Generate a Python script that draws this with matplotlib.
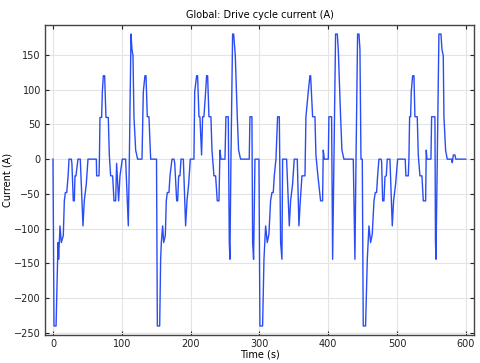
import matplotlib
matplotlib.use("Agg")
import matplotlib.pyplot as plt

plt.rcParams['font.family'] = 'DejaVu Sans'
plt.rcParams['font.size'] = 7

# %% data, one list pair per 150 s drive cycle
cycle1_t = [0, 1.5, 4.5, 7.3, 8.2, 10.2, 12.1, 15, 16.5, 18, 20, 21, 22, 23.3, 26.6, 27.5,
            29.5, 31, 32, 33.4, 36.3, 39.7, 43.6, 45.5, 48.4, 50.9, 63, 63.5, 66.9, 67.5,
            68.3, 70.7, 71.7, 73.2, 75.1, 77, 80.4, 81.9, 83.8, 86.7, 88.7, 91.1, 92.5,
            95.4, 97.4, 100.8, 105.6, 108, 109.5, 111, 113.4, 114.8, 116.3, 117.7, 120.2,
            123, 129.4, 131.3, 133.7, 135.2, 137.1, 139.5, 142, 150.5]
cycle1_i = [0, -240, -240, -120, -144, -96, -120, -110, -60, -48, -48, -36, -24, 0, 0, -6,
            -60, -60, -24, -24, 0, 0, -96, -60, -36, 0, 0, -24, -24, 0,
            60, 60, 96, 120, 120, 60, 60, 6, -24, -24, -60, -60, -6,
            -60, -24, 0, 0, -60, -96, 0, 180, 158, 149, 61, 13,
            0, 0, 97, 120, 120, 61, 61, 0, 0]

cycle2_t = [151.7, 155.1, 156.5, 157.5, 159.4, 160.9, 163.3, 164.7, 166.2, 168.6, 170.1,
            173, 175.9, 177, 179.8, 181.2, 182.7, 184.6, 186.1, 189.5, 192.8, 194.8, 197.2,
            199.6, 204.9, 206, 208.8, 210.2, 212.2, 213.6, 216, 217.5, 219.4, 221.9, 223.3,
            224.8, 226.7, 229.6, 231.1, 234, 236.4, 238.8, 241.3, 242.7, 244.2, 250, 251.4,
            254.8, 256.3, 257.2, 258.7, 261.1, 262.6, 265, 267.9, 269.8, 272.7, 285.3,
            286.3, 289.2, 290.2, 291.6, 293.6, 299.4]
cycle2_i = [-240, -240, -144, -120, -96, -120, -110, -60, -48, -48, -24,
            0, 0, -6, -60, -60, -24, -24, 0, 0, -96, -60, -36,
            0, 0, 97, 120, 120, 61, 61, 6, 61, 61, 97, 120,
            120, 61, 61, 13, -24, -24, -60, -60, 13, 0, 0, 61,
            61, -120, -144, 0, 180, 180, 149, 61, 13, 0, 0,
            61, 61, -120, -144, 0, 0]

cycle3_t = [300.8, 304.7, 306.7, 309.1, 311.5, 313.9, 316.3, 318.3, 320.2, 321.7, 324.1,
            326.5, 329, 330.9, 332.8, 333.8, 339.6, 342, 343.5, 345.4, 348.3, 350.7, 355.1,
            357.5, 359.5, 361.9, 366.3, 367.7, 371.1, 373.5, 374.5, 377.4, 380.8, 382.2,
            385.1, 389, 391.9, 392.9, 394.4, 400.2, 401.1, 405, 406.5, 408.4, 410.8, 413.3,
            414.7, 418.1, 420, 422.9, 436.5, 438.9, 440.5, 442.8, 444.8, 446.2, 447.7, 449.6]
cycle3_i = [-240, -240, -144, -96, -120, -108, -60, -48, -48, -24, 0,
            61, 61, -120, -144, 0, 0, -60, -96, -60, -36, 0, 0,
            -96, -60, -24, -24, 61, 97, 120, 120, 61, 61, 6,
            -24, -60, -60, 13, 0, 0, 61, 61, -144, 0, 180, 180,
            158, 61, 13, 0, 0, -144, 0, 180, 180, 158, 0, 0]

cycle4_t = [451, 454.4, 456.9, 459.3, 461.7, 464.1, 466.6, 468.5, 470.4, 471.9, 473.8,
            476.7, 477.7, 479.2, 481.1, 482.6, 484.5, 485.9, 489.8, 493.2, 495.1, 498, 501,
            512, 513, 516.5, 517.4, 518.4, 519.9, 520.8, 522.8, 524.7, 526.1, 529.5, 531,
            533.4, 536.3, 538.3, 541.7, 542.6, 543.6, 549.4, 550.4, 555.2, 556, 556.7,
            558.6, 561, 564, 565.4, 567.3, 568.3, 570.7, 573.1, 579.4, 580.4, 582, 584.3,
            585.5, 600]
cycle4_i = [-240, -240, -144, -96, -120, -108, -60, -48, -48, -24, 0,
            0, -3, -60, -60, -25, -24, 0, 0, -96, -60, -36, 0,
            0, -24, -24, 0, 61, 61, 97, 120, 120, 61, 61, 6,
            -24, -24, -60, -60, 13, 0, 0, 61, 61, -120, -144,
            0, 180, 180, 158, 149, 61, 13, 0, 0, -5, 6, 6,
            0, 0]

x_ticks = [0, 100, 200, 300, 400, 500, 600]
y_ticks = [-250, -200, -150, -100, -50, 0, 50, 100, 150]

time_s = cycle1_t + cycle2_t + cycle3_t + cycle4_t
current_a = cycle1_i + cycle2_i + cycle3_i + cycle4_i

# %% plot
fig = plt.figure(figsize=(4.81, 3.63), dpi=100)
ax = fig.add_axes([45/481, 1-335/363, 429/481, 310/363])

ax.plot(time_s, current_a, color='#2a4cf5', linewidth=1.0)

ax.set_xlim(-11.6, 612)
ax.set_ylim(-253, 193)
ax.set_xticks(x_ticks)
ax.set_yticks(y_ticks)
ax.grid(True, color='#e4e4e4', linewidth=0.8)
ax.set_axisbelow(True)
ax.tick_params(direction='in', length=3, width=0.8, top=True, right=True,
               labelsize=7, colors='#222222', pad=3)
for s in ax.spines.values():
    s.set_color('#444444')
    s.set_linewidth(1.0)

ax.set_title('Global: Drive cycle current (A)', fontsize=7, pad=5)
ax.set_xlabel('Time (s)', fontsize=7, labelpad=0)
ax.set_ylabel('Current (A)', fontsize=7, labelpad=1)

fig.savefig('out.png', dpi=100)
